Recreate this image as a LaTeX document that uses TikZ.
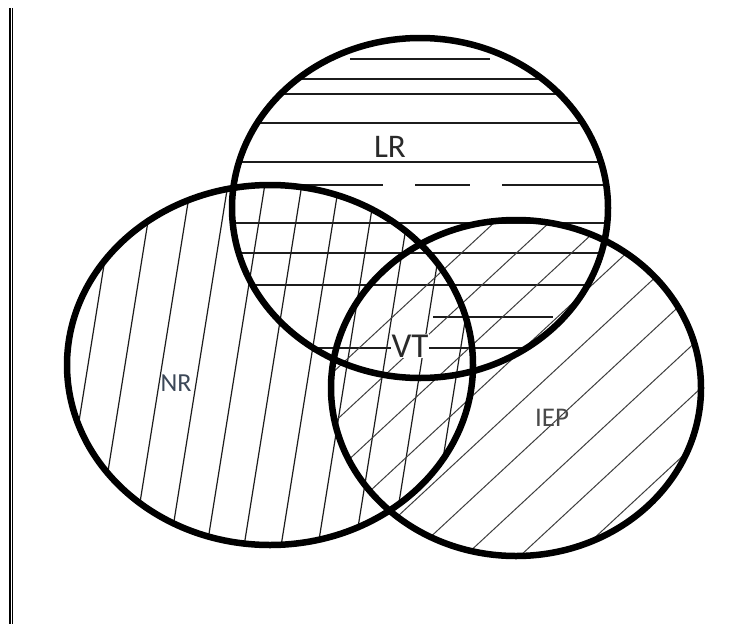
\documentclass[tikz,border=0pt]{standalone}
\usepackage{fontspec}
\setmainfont{Carlito}
\usepackage{tikz}
\definecolor{VennRing}{HTML}{000000}
\definecolor{VennHatch}{HTML}{1C1C1C}
\definecolor{VennText}{HTML}{2A2A2A}
\definecolor{VennTextNR}{HTML}{3C4858}
\definecolor{VennTextIEP}{HTML}{4A4A4A}
\tikzset{
  ring/.style={draw=VennRing,line width=6.5pt},
  hatchLR/.style={draw=VennHatch,line width=1.3pt},
  hatchNR/.style={draw=VennHatch,line width=1.2pt},
  hatchIEP/.style={draw=VennHatch!85,line width=1pt},
  setlabel/.style={inner sep=1pt,text=VennText}
}

\begin{document}
\begin{tikzpicture}[x=1pt,y=-1pt]
    \useasboundingbox (0,0) rectangle (741,624);
    \fill[white] (0,0) rectangle (741,624);
    % double rule on the left
    \draw[line width=1.3pt] (10,8) -- (10,624);
    \draw[line width=1.3pt] (12.7,8) -- (12.7,624);

    \coordinate (LR) at (420,208);
    \coordinate (NR) at (270,365);
    \coordinate (IEP) at (516,388);

    % LR: horizontal lines
    \begin{scope}
      \clip (LR) ellipse [x radius=188,y radius=170];
      \draw[hatchLR] (350,59) -- (490,59);
      \foreach \y in {79,94,123,162,223,253,285,348}
        \draw[hatchLR] (220,\y) -- (620,\y);
      \draw[hatchLR] (433,317) -- (553,317);
      \draw[hatchLR] (220,185) -- (383,185);
      \draw[hatchLR] (415,185) -- (470,185);
      \draw[hatchLR] (502,185) -- (620,185);
    \end{scope}

    % NR: steep lines
    \begin{scope}
      \clip (NR) ellipse [x radius=203,y radius=180];
      \foreach \x in {88,125,...,470}
        \draw[hatchNR] (\x+34.4,150) -- (\x-34.4,580);
    \end{scope}

    % IEP: diagonal lines
    \begin{scope}
      \clip (IEP) ellipse [x radius=185,y radius=168];
      \foreach \x in {261,316,...,760}
        \draw[hatchIEP] (\x-250,620) -- (\x+250,156);
    \end{scope}

    \draw[ring] (LR) ellipse [x radius=188,y radius=170];
    \draw[ring] (NR) ellipse [x radius=203,y radius=180];
    \draw[ring] (IEP) ellipse [x radius=185,y radius=168];

    \node[setlabel,font=\fontsize{33}{33}\selectfont] (lrlabel) at (390,147) {LR};
    \node[setlabel,fill=white,font=\fontsize{35}{35}\selectfont] (vtlabel) at (410,346) {VT};
    \node[setlabel,text=VennTextNR,font=\fontsize{26}{26}\selectfont] (nrlabel) at (176,383) {NR};
    \node[setlabel,text=VennTextIEP,font=\fontsize{27}{27}\selectfont] (ieplabel) at (552,418) {IEP};
\end{tikzpicture}
\end{document}
